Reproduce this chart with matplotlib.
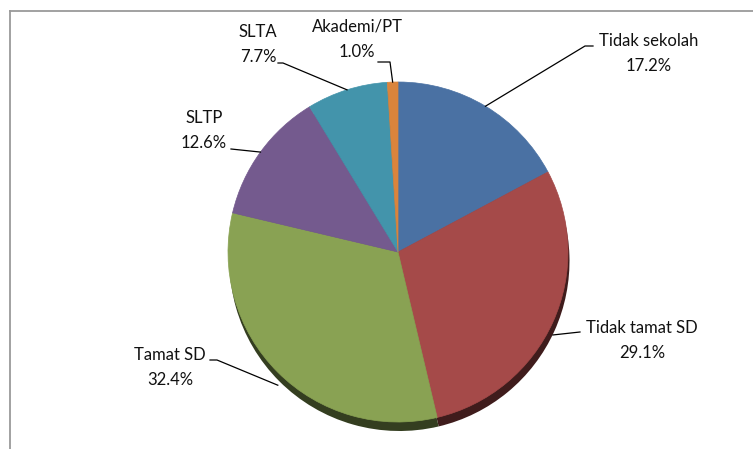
import numpy as np
import matplotlib.pyplot as plt
from matplotlib.colors import to_rgb

labels = ["Tidak sekolah", "Tidak tamat SD", "Tamat SD", "SLTP", "SLTA", "Akademi/PT"]
values = [17.2, 29.1, 32.4, 12.6, 7.7, 1.0]
colors = ["#4A71A3", "#A54A49", "#89A253", "#745A8E", "#4394AB", "#DA843C"]

W, H = 753, 449
cx, cy, r = 398, 252, 170
depth = 9

# label layout in pixel coords (y down): text centre x, first line y, leader elbow points
text_pos = [(649, 41), (642, 328), (170, 355), (204, 118), (258, 32), (357, 27)]
elbows = [
    [(593, 46), (585, 46)],
    [(580, 332)],
    [(210, 360), (217, 360)],
    [(231, 149)],
    [(278, 63), (283, 63)],
    [(378, 62), (390, 62)],
]

plt.rcParams['font.family'] = ['Lato', 'DejaVu Sans']

fig = plt.figure(figsize=(W / 100, H / 100), dpi=100)
ax = fig.add_axes([0, 0, 1, 1])

# 3D-ish depth: darker copy of the pie shifted down
dark = [tuple(c * 0.38 for c in to_rgb(col)) for col in colors]
ax.pie(values, colors=dark, startangle=-90, counterclock=True, radius=r,
       center=(cx + 1.5, cy + depth), wedgeprops=dict(linewidth=0))
wedges, _ = ax.pie(values, colors=colors, startangle=-90, counterclock=True, radius=r,
                   center=(cx, cy), wedgeprops=dict(linewidth=0.5))
for w, col in zip(wedges, colors):
    w.set_edgecolor(col)

ax.set_xlim(0, W)
ax.set_ylim(H, 0)
ax.set_aspect('auto')
ax.axis('off')

# frame (top and left edges visible)
ax.plot([10, W], [11, 11], color='#9a9a9a', lw=1.3, clip_on=False)
ax.plot([10, 10], [11, H], color='#9a9a9a', lw=1.3, clip_on=False)

cum = np.cumsum([0] + values[:-1])
for i, (lab, v) in enumerate(zip(labels, values)):
    theta = np.deg2rad(-90 + (cum[i] + v / 2) * 3.6)
    ex = cx + r * np.cos(theta)
    ey = cy + r * np.sin(theta)
    if np.sin(theta) > 0.3:
        ey += depth + 4
    pts = elbows[i] + [(ex, ey)]
    ax.plot([p[0] for p in pts], [p[1] for p in pts], color='black', lw=0.9)
    tx, ty = text_pos[i]
    ax.text(tx, ty, lab, ha='center', va='center', fontsize=12, color='#111111')
    ax.text(tx, ty + 25, f"{v:.1f}%", ha='center', va='center', fontsize=12, color='#111111')

fig.savefig('out.png', dpi=100)
